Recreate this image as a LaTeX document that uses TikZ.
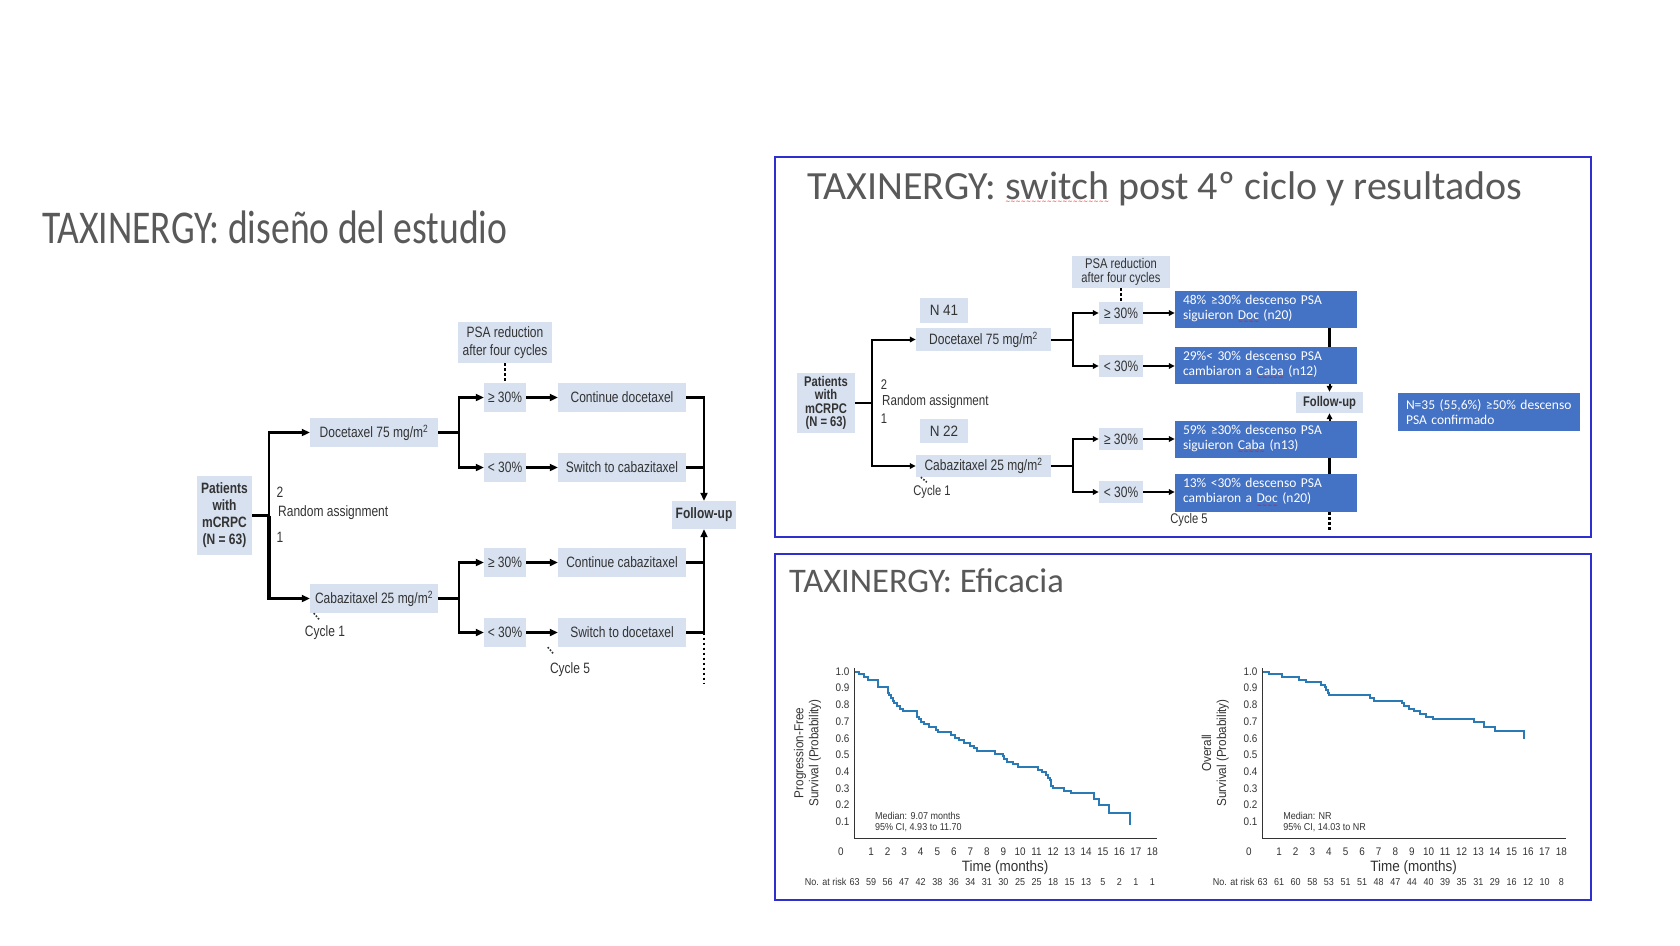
\documentclass[tikz,border=0pt]{standalone}
\usepackage{fontspec}
\setmainfont{Carlito}
\newfontfamily\titlefont[FakeStretch=0.8]{Carlito}
\newfontfamily\condfont[FakeStretch=0.8]{Liberation Sans}
\newfontfamily\plotfont[FakeStretch=0.9]{Liberation Sans}
\newfontfamily\wavefont{DejaVu Sans}
\usetikzlibrary{arrows.meta}
\definecolor{paleblue}{HTML}{D7E1F0}
\definecolor{boxblue}{HTML}{4472C4}
\definecolor{framecol}{HTML}{2F2FD0}
\definecolor{titlegray}{HTML}{595959}
\definecolor{inkgray}{HTML}{333333}
\definecolor{curveblue}{HTML}{2A7AB5}
\newsavebox\spellbox
\newcommand\spellmark[1]{\sbox\spellbox{#1}%
  \rlap{\raisebox{-4.5pt}{\textcolor{red}{\hbox to \wd\spellbox{%
    \wavefont\fontsize{6}{6}\selectfont\xleaders\hbox{\char"007E}\hfil}}}}%
  \usebox\spellbox}

\begin{document}
\begin{tikzpicture}[x=1pt,y=-1pt,
    pale/.style={fill=paleblue,inner sep=0pt,text=inkgray,align=center,
      font=\condfont\fontsize{15}{18}\selectfont},
    pctbox/.style={pale,minimum width=42pt,minimum height=29pt},
    stepbox/.style={pale,minimum width=128pt,minimum height=29pt},
    rpct/.style={pale,minimum width=44pt,minimum height=22pt},
    rstep/.style={pale,minimum width=135pt,minimum height=23pt},
    bluebox/.style={fill=boxblue,inner xsep=8pt,inner ysep=0pt,text=white,
      align=left,text width=166pt,minimum height=37pt,
      font=\fontsize{13.5}{15}\selectfont},
    note/.style={inner sep=0pt,text=inkgray,font=\condfont\fontsize{15}{18}\selectfont},
    link/.style={draw=black,line width=2.4pt},
    linkarr/.style={link,-{Triangle[length=8pt,width=7pt]}},
    rlink/.style={draw=black,line width=2pt},
    rarr/.style={rlink,-{Triangle[length=6pt,width=5.5pt]}},
    dotlink/.style={draw=black,line width=2.4pt,dash pattern=on 2.5pt off 2.5pt},
    tickdots/.style={draw=inkgray,line width=1.6pt,dash pattern=on 1.6pt off 1.6pt},
    frame/.style={draw=framecol,line width=1.3pt},
    ticklab/.style={inner sep=0pt,text=inkgray,font=\plotfont\fontsize{11}{12}\selectfont},
    risklab/.style={inner sep=0pt,text=inkgray,font=\plotfont\fontsize{10}{11}\selectfont},
    axislab/.style={inner sep=0pt,text=inkgray,align=center,font=\plotfont\fontsize{13}{15}\selectfont},
    kmcurve/.style={draw=curveblue,line width=2pt}]
  \useasboundingbox (0,0) rectangle (1680,945);
  \fill[white] (0,0) rectangle (1680,945);

  % titles and frames
  \node[anchor=base west,inner sep=0pt,text=titlegray,
    font=\titlefont\fontsize{47}{50}\selectfont] (ttl1) at (42,243) {TAXINERGY: diseño del estudio};
  \draw[frame] (775,157) rectangle (1591,537);
  \draw[frame] (775,554) rectangle (1591,900);
  \node[anchor=base west,inner sep=0pt,text=titlegray,
    font=\fontsize{40}{42}\selectfont] (ttl2) at (807,199) {TAXINERGY: \spellmark{switch} post 4º ciclo y resultados};
  \node[anchor=base west,inner sep=0pt,text=titlegray,
    font=\fontsize{34.5}{36}\selectfont] (ttl3) at (789,592) {TAXINERGY: Eficacia};

  % study design (left)
  \node[pale,minimum width=94pt,minimum height=41pt] (lpsa) at (505,342.5) {PSA reduction\\after four cycles};
  \node[pctbox] (lge1) at (505,397.5) {≥ 30\%};
  \node[stepbox] (lcont1) at (622,397.5) {Continue docetaxel};
  \node[stepbox] (ldoc) at (374,432.5) {Docetaxel 75 mg/m\textsuperscript{2}};
  \node[pctbox] (llt1) at (505,467.5) {< 30\%};
  \node[stepbox] (lsw1) at (622,467.5) {Switch to cabazitaxel};
  \node[pale,font=\condfont\bfseries\fontsize{15}{17}\selectfont,
    minimum width=55pt,minimum height=79pt] (lpat) at (224.5,515.5) {Patients\\with\\mCRPC\\(N = 63)};
  \node[pale,font=\condfont\bfseries\fontsize{15}{18}\selectfont,
    minimum width=64pt,minimum height=28pt] (lfu) at (704,515) {Follow-up};
  \node[pctbox] (lge2) at (505,562.5) {≥ 30\%};
  \node[stepbox] (lcont2) at (622,562.5) {Continue cabazitaxel};
  \node[stepbox] (lcab) at (374,598.5) {Cabazitaxel 25 mg/m\textsuperscript{2}};
  \node[pctbox] (llt2) at (505,632.5) {< 30\%};
  \node[stepbox] (lsw2) at (622,632.5) {Switch to docetaxel};
  \node[note] (ltwo) at (280,492) {2};
  \node[note,anchor=west] (lrand) at (278,513) {Random assignment};
  \node[note] (lone) at (280,537) {1};
  \node[note] (lcyc1) at (325,633) {Cycle 1};
  \node[note] (lcyc5) at (570,670) {Cycle 5};
  \coordinate (ltrunk) at (269,515.5);
  \coordinate (lbr1) at (459,432.5);
  \coordinate (lbr2) at (459,598.5);
  \coordinate (lend) at (704,684);

  \draw[link] (lpat) -- (ltrunk);
  \draw[linkarr] (ltrunk) |- (ldoc.west);
  \draw[linkarr,line width=3.2pt] (ltrunk) |- (lcab.west);
  \draw[link] (ldoc) -- (lbr1);
  \draw[linkarr] (lbr1) |- (lge1.west);
  \draw[linkarr] (lbr1) |- (llt1.west);
  \draw[link,line width=3.2pt] (lcab) -- (lbr2);
  \draw[linkarr] (lbr2) |- (lge2.west);
  \draw[linkarr] (lbr2) |- (llt2.west);
  \draw[linkarr] (lge1) -- (lcont1);
  \draw[linkarr] (llt1) -- (lsw1);
  \draw[linkarr] (lge2) -- (lcont2);
  \draw[linkarr] (llt2) -- (lsw2);
  \draw[linkarr] (lcont1.east) -| (lfu.north);
  \draw[link] (lsw1.east) -- (lsw1.east -| lfu.north);
  \draw[linkarr] (lsw2.east) -| (lfu.south);
  \draw[link] (lcont2.east) -- (lcont2.east -| lfu.south);
  \draw[dotlink] (lsw2.east -| lfu.south) -- (lend);
  \draw[dotlink] (lpsa) -- (lge1);
  \draw[tickdots] ([xshift=4pt]lcab.south west) -- ++(6,7);
  \draw[tickdots] ([xshift=-10pt]lsw2.south west) -- ++(6,7);

  % switch and results (top right)
  \node[pale,font=\condfont\fontsize{14}{13.5}\selectfont,
    minimum width=98pt,minimum height=32pt] (rpsa) at (1121,272) {PSA reduction\\after four cycles};
  \node[pale,font=\plotfont\fontsize{15}{18}\selectfont,
    minimum width=48pt,minimum height=25pt] (rn41) at (944,310.5) {N 41};
  \node[rpct] (rge1) at (1121,313) {≥ 30\%};
  \node[rstep] (rdoc) at (983.5,339.5) {Docetaxel 75 mg/m\textsuperscript{2}};
  \node[rpct] (rlt1) at (1121,366) {< 30\%};
  \node[pale,font=\condfont\bfseries\fontsize{14}{13.5}\selectfont,
    minimum width=58pt,minimum height=60pt] (rpat) at (826,403) {Patients\\with\\mCRPC\\(N = 63)};
  \node[pale,font=\condfont\bfseries\fontsize{14}{16}\selectfont,
    minimum width=67pt,minimum height=21pt] (rfu) at (1329.5,402.5) {Follow-up};
  \node[pale,font=\plotfont\fontsize{15}{18}\selectfont,
    minimum width=48pt,minimum height=24pt] (rn22) at (944,431) {N 22};
  \node[rpct] (rge2) at (1121,439) {≥ 30\%};
  \node[rstep,minimum height=22pt] (rcab) at (983.5,466) {Cabazitaxel 25 mg/m\textsuperscript{2}};
  \node[rpct] (rlt2) at (1121,492) {< 30\%};
  \node[bluebox] (rb1) at (1266,309.5) {48\% ≥30\% descenso PSA\\siguieron \spellmark{Doc} (n20)};
  \node[bluebox] (rb2) at (1266,365.5) {29\%< 30\% descenso PSA\\cambiaron a \spellmark{Caba} (n12)};
  \node[bluebox] (rb3) at (1266,439.5) {59\% ≥30\% descenso PSA\\siguieron \spellmark{Caba} (n13)};
  \node[bluebox,minimum height=38pt] (rb4) at (1266,493) {13\% <30\% descenso PSA\\cambiaron a \spellmark{Doc} (n20)};
  \node[bluebox,minimum height=38pt] (rn35) at (1489,412) {N=35 (55,6\%) ≥50\% descenso\\PSA confirmado};
  \node[note,font=\condfont\fontsize{14}{16}\selectfont] (rtwo) at (884,385) {2};
  \node[note,anchor=west,font=\condfont\fontsize{14.5}{16}\selectfont] (rrand) at (882,401.7) {Random assignment};
  \node[note,font=\condfont\fontsize{14}{16}\selectfont] (rone) at (884,419) {1};
  \node[note,font=\condfont\fontsize{14}{16}\selectfont] (rcyc1) at (932,492) {Cycle 1};
  \node[note,font=\condfont\fontsize{14}{16}\selectfont] (rcyc5) at (1189,520) {Cycle 5};
  \coordinate (rtrunk) at (872,403);
  \coordinate (rbr1) at (1073,339.5);
  \coordinate (rbr2) at (1073,466);
  \coordinate (rend) at (1329.5,532);

  \draw[rlink] (rpat) -- (rtrunk);
  \draw[rarr] (rtrunk) |- (rdoc.west);
  \draw[rarr,line width=2.8pt] (rtrunk) |- (rcab.west);
  \draw[rlink] (rdoc) -- (rbr1);
  \draw[rarr] (rbr1) |- (rge1.west);
  \draw[rarr] (rbr1) |- (rlt1.west);
  \draw[rlink,line width=2.8pt] (rcab) -- (rbr2);
  \draw[rarr] (rbr2) |- (rge2.west);
  \draw[rarr] (rbr2) |- (rlt2.west);
  \draw[rarr] (rge1.east) -- (rge1.east -| rb1.west);
  \draw[rarr] (rlt1.east) -- (rlt1.east -| rb2.west);
  \draw[rarr] (rge2.east) -- (rge2.east -| rb3.west);
  \draw[rarr] (rlt2.east) -- (rlt2.east -| rb4.west);
  \draw[rlink,line width=3pt] (rb1.south -| rfu) -- (rb2.north -| rfu);
  \draw[rarr] (rb2.south -| rfu) -- (rfu.north);
  \draw[rarr] (rb3.north -| rfu) -- (rfu.south);
  \draw[rlink,line width=3pt] (rb3.south -| rfu) -- (rb4.north -| rfu);
  \draw[dotlink,line width=2.2pt] (rb4.south -| rfu) -- (rend);
  \draw[dotlink,line width=2.2pt] (rpsa) -- (rge1);
  \draw[tickdots] ([xshift=5pt]rcab.south west) -- ++(6,5);

  % efficacy: progression-free survival
  \begin{scope}[shift={(854.5,838.5)},x=16.55pt,y=167pt]
    \draw[inkgray,line width=1.1pt] (0,1.02) -- (0,0) -- (18.3,0);
    \foreach \v in {1,...,9}
      \node[ticklab,anchor=east,xshift=-5pt] at (0,\v/10) {0.\v};
    \node[ticklab,anchor=east,xshift=-5pt] at (0,1) {1.0};
    \node[ticklab] at (-0.82,-0.079) {0};
    \foreach \m in {1,...,18}
      \node[ticklab] at (\m,-0.079) {\m};
    \node[axislab,font=\plotfont\fontsize{15}{17}\selectfont] at (9.1,-0.177) {Time (months)};
    \node[risklab,anchor=east,xshift=-8pt] at (0,-0.259) {No. at risk};
    \foreach \n [count=\i from 0] in {63,59,56,47,42,38,36,34,31,30,25,25,18,15,13,5,2,1,1}
      \node[risklab] at (\i,-0.259) {\n};
    \node[axislab,rotate=90] at (-2.84,0.512) {Progression-Free\\Survival (Probability)};
    \node[risklab,anchor=west,align=left] at (1.24,0.1) {Median: 9.07 months\\95\% CI, 4.93 to 11.70};
    \draw[kmcurve] (0,1) -| (0.25,0.984) -| (0.55,0.968) -| (0.8,0.952) -| (1.4,0.905)
      -| (2.0,0.873) -| (2.1,0.857) -| (2.2,0.84) -| (2.3,0.825) -| (2.4,0.81)
      -| (2.55,0.794) -| (2.75,0.778) -| (2.95,0.762) -| (3.75,0.746) -| (3.8,0.73)
      -| (3.9,0.714) -| (4.0,0.698) -| (4.2,0.683) -| (4.5,0.667) -| (4.95,0.651)
      -| (5.05,0.635) -| (5.8,0.619) -| (6.1,0.603) -| (6.3,0.587) -| (6.6,0.571)
      -| (7.0,0.556) -| (7.2,0.540) -| (7.4,0.524) -| (8.5,0.508) -| (8.95,0.492)
      -| (9.05,0.476) -| (9.2,0.460) -| (9.55,0.444) -| (9.9,0.429) -| (11.1,0.413)
      -| (11.35,0.397) -| (11.6,0.381) -| (11.7,0.365) -| (11.8,0.349) -| (11.9,0.317)
      -| (12.0,0.302) -| (12.65,0.286) -| (13.1,0.27) -| (14.5,0.238) -| (14.75,0.2)
      -| (15.35,0.155) -| (16.62,0.08);
  \end{scope}

  % efficacy: overall survival
  \begin{scope}[shift={(1262.5,838.5)},x=16.6pt,y=167pt]
    \draw[inkgray,line width=1.1pt] (0,1.02) -- (0,0) -- (18.3,0);
    \foreach \v in {1,...,9}
      \node[ticklab,anchor=east,xshift=-5pt] at (0,\v/10) {0.\v};
    \node[ticklab,anchor=east,xshift=-5pt] at (0,1) {1.0};
    \node[ticklab] at (-0.82,-0.079) {0};
    \foreach \m in {1,...,18}
      \node[ticklab] at (\m,-0.079) {\m};
    \node[axislab,font=\plotfont\fontsize{15}{17}\selectfont] at (9.1,-0.177) {Time (months)};
    \node[risklab,anchor=east,xshift=-8pt] at (0,-0.259) {No. at risk};
    \foreach \n [count=\i from 0] in {63,61,60,58,53,51,51,48,47,44,40,39,35,31,29,16,12,10,8}
      \node[risklab] at (\i,-0.259) {\n};
    \node[axislab,rotate=90] at (-2.84,0.512) {Overall\\Survival (Probability)};
    \node[risklab,anchor=west,align=left] at (1.24,0.1) {Median: NR\\95\% CI, 14.03 to NR};
    \draw[kmcurve] (0,1) -| (0.4,0.984) -| (1.15,0.968) -| (2.2,0.952) -| (2.6,0.937)
      -| (3.5,0.921) -| (3.75,0.905) -| (3.85,0.889) -| (3.95,0.873) -| (4.0,0.857)
      -| (6.5,0.841) -| (6.7,0.825) -| (8.4,0.809) -| (8.55,0.794) -| (8.8,0.778)
      -| (9.1,0.762) -| (9.5,0.746) -| (9.85,0.730) -| (10.25,0.714) -| (12.75,0.698)
      -| (13.35,0.667) -| (14.0,0.643) -| (15.76,0.595);
  \end{scope}
\end{tikzpicture}
\end{document}
